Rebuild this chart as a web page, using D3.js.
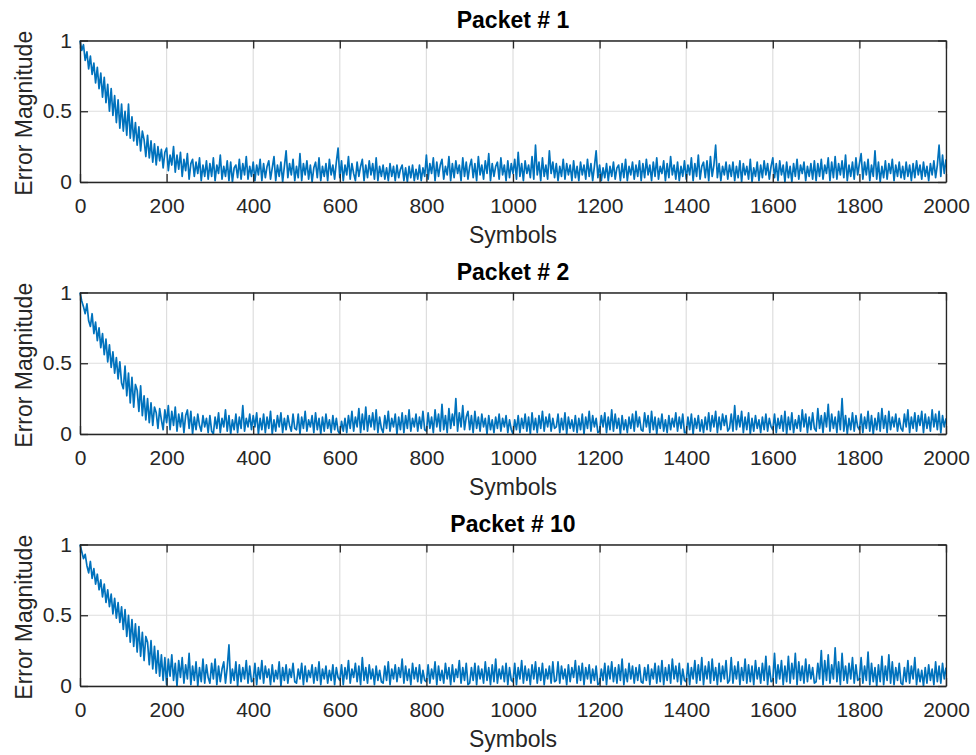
<!DOCTYPE html>
<html><head><meta charset="utf-8">
<script src="https://cdn.jsdelivr.net/npm/d3@7"></script>
<style>body{margin:0;background:#fff}svg{display:block}text{font-family:"Liberation Sans",Arial,sans-serif}</style>
</head><body><svg id="c" width="976" height="755"></svg>
<script>
const titles = ["Packet # 1","Packet # 2","Packet # 10"];
const xTicks = [0,200,400,600,800,1000,1200,1400,1600,1800,2000];
const yTicks = [0,0.5,1];
const xLabel = "Symbols";
const yLabel = "Error Magnitude";
const symbolStep = 4;
const packet1 = [
1.00,0.93,0.97,0.86,0.92,0.80,0.89,0.76,0.84,0.70,0.81,0.66,0.77,0.60,0.74,0.56,0.69,0.50,0.66,0.47,0.61,0.42,0.58,0.38,0.55,
0.36,0.50,0.33,0.55,0.31,0.46,0.29,0.42,0.26,0.39,0.22,0.36,0.30,0.18,0.33,0.17,0.29,0.14,0.27,0.12,0.25,0.15,0.23,0.10,0.21,
0.24,0.08,0.19,0.12,0.25,0.07,0.19,0.09,0.21,0.04,0.16,0.08,0.20,0.02,0.13,0.16,0.04,0.14,0.06,0.17,0.01,0.12,0.04,0.15,0.02,
0.13,0.04,0.17,0.01,0.12,0.06,0.19,0.02,0.11,0.04,0.15,0.01,0.14,0.00,0.10,0.12,0.03,0.16,0.02,0.13,0.05,0.18,0.02,0.11,0.04,
0.14,0.01,0.12,0.05,0.16,0.01,0.13,0.03,0.11,0.15,0.02,0.10,0.18,0.01,0.12,0.04,0.14,0.00,0.11,0.22,0.03,0.13,0.05,0.16,0.01,
0.11,0.03,0.20,0.01,0.13,0.05,0.15,0.02,0.12,0.00,0.10,0.14,0.03,0.17,0.01,0.11,0.04,0.13,0.01,0.16,0.05,0.12,0.02,0.14,0.24,
0.03,0.15,0.01,0.12,0.05,0.18,0.02,0.13,0.06,0.01,0.14,0.04,0.11,0.16,0.01,0.12,0.03,0.15,0.05,0.13,0.02,0.17,0.01,0.11,0.04,
0.12,0.02,0.10,0.01,0.13,0.04,0.11,0.01,0.12,0.03,0.09,0.12,0.01,0.10,0.00,0.11,0.03,0.12,0.01,0.09,0.02,0.12,0.01,0.10,0.04,
0.19,0.02,0.13,0.06,0.17,0.01,0.14,0.04,0.12,0.16,0.02,0.11,0.05,0.18,0.01,0.13,0.03,0.15,0.06,0.12,0.01,0.17,0.04,0.14,0.02,
0.11,0.16,0.03,0.13,0.01,0.18,0.05,0.12,0.02,0.15,0.06,0.20,0.01,0.13,0.04,0.11,0.14,0.02,0.17,0.05,0.12,0.01,0.15,0.03,0.13,
0.06,0.16,0.02,0.21,0.04,0.13,0.01,0.15,0.06,0.12,0.03,0.18,0.02,0.26,0.05,0.14,0.01,0.17,0.04,0.12,0.02,0.22,0.06,0.14,0.03,
0.13,0.01,0.11,0.04,0.16,0.02,0.13,0.05,0.12,0.01,0.15,0.03,0.11,0.01,0.14,0.05,0.12,0.02,0.16,0.04,0.13,0.01,0.11,0.22,0.03,
0.12,0.01,0.10,0.03,0.13,0.01,0.11,0.04,0.14,0.02,0.10,0.12,0.01,0.13,0.03,0.16,0.01,0.11,0.05,0.14,0.02,0.12,0.04,0.15,0.01,
0.13,0.03,0.16,0.05,0.12,0.01,0.14,0.04,0.17,0.02,0.11,0.06,0.15,0.01,0.13,0.03,0.18,0.05,0.12,0.02,0.14,0.01,0.11,0.04,0.15,
0.02,0.12,0.05,0.17,0.01,0.13,0.04,0.19,0.02,0.11,0.14,0.03,0.15,0.01,0.18,0.04,0.12,0.26,0.03,0.13,0.01,0.11,0.05,0.14,0.02,
0.12,0.04,0.14,0.01,0.11,0.03,0.15,0.00,0.13,0.05,0.11,0.02,0.16,0.00,0.10,0.04,0.14,0.01,0.12,0.03,0.15,0.05,0.13,0.02,0.11,
0.17,0.03,0.13,0.01,0.15,0.05,0.12,0.00,0.14,0.03,0.11,0.00,0.13,0.04,0.16,0.02,0.12,0.06,0.14,0.01,0.11,0.04,0.13,0.02,0.15,
0.01,0.13,0.04,0.16,0.02,0.12,0.06,0.17,0.01,0.14,0.03,0.18,0.02,0.13,0.05,0.15,0.03,0.19,0.01,0.12,0.04,0.14,0.02,0.17,0.05,
0.13,0.20,0.02,0.14,0.05,0.16,0.01,0.12,0.04,0.22,0.02,0.14,0.00,0.11,0.03,0.15,0.02,0.13,0.06,0.16,0.01,0.12,0.04,0.14,0.03,
0.11,0.02,0.14,0.04,0.12,0.01,0.13,0.03,0.15,0.05,0.12,0.02,0.14,0.04,0.11,0.01,0.13,0.05,0.15,0.03,0.12,0.26,0.04,0.19,0.06,
0.16];
const packet2 = [
1.00,0.94,0.90,0.85,0.92,0.80,0.76,0.85,0.71,0.79,0.66,0.75,0.61,0.71,0.56,0.67,0.51,0.63,0.47,0.58,0.43,0.54,0.39,0.51,0.36,
0.32,0.48,0.27,0.43,0.22,0.40,0.19,0.35,0.31,0.16,0.34,0.13,0.27,0.10,0.25,0.08,0.22,0.06,0.19,0.15,0.04,0.18,0.10,0.03,0.17,
0.08,0.20,0.03,0.16,0.06,0.19,0.02,0.14,0.05,0.15,0.01,0.13,0.17,0.04,0.16,0.00,0.12,0.03,0.14,0.06,0.02,0.13,0.05,0.11,0.01,
0.13,0.02,0.00,0.12,0.04,0.15,0.01,0.11,0.05,0.17,0.02,0.13,0.00,0.10,0.03,0.14,0.01,0.12,0.04,0.20,0.02,0.11,0.05,0.14,0.03,
0.13,0.05,0.15,0.00,0.11,0.03,0.14,0.01,0.12,0.04,0.16,0.00,0.10,0.02,0.13,0.05,0.15,0.01,0.11,0.03,0.13,0.06,0.02,0.14,0.04,
0.03,0.14,0.00,0.12,0.04,0.16,0.02,0.10,0.05,0.13,0.01,0.15,0.03,0.11,0.00,0.12,0.02,0.14,0.04,0.10,0.01,0.13,0.03,0.11,0.02,
0.00,0.09,0.02,0.11,0.01,0.13,0.04,0.16,0.02,0.12,0.05,0.18,0.01,0.14,0.03,0.19,0.02,0.13,0.05,0.15,0.03,0.17,0.01,0.12,0.04,
0.01,0.13,0.04,0.16,0.02,0.11,0.05,0.14,0.00,0.12,0.03,0.15,0.01,0.13,0.04,0.17,0.02,0.11,0.05,0.14,0.02,0.12,0.04,0.16,0.03,
0.02,0.15,0.04,0.12,0.01,0.17,0.05,0.14,0.02,0.21,0.03,0.13,0.01,0.18,0.04,0.14,0.06,0.25,0.02,0.15,0.05,0.20,0.03,0.12,0.16,
0.03,0.13,0.01,0.16,0.04,0.12,0.02,0.14,0.05,0.11,0.00,0.13,0.03,0.10,0.01,0.12,0.04,0.14,0.02,0.11,0.05,0.13,0.01,0.10,0.03,
0.00,0.10,0.03,0.13,0.01,0.11,0.04,0.14,0.02,0.12,0.00,0.15,0.03,0.11,0.01,0.13,0.04,0.16,0.02,0.12,0.05,0.14,0.02,0.11,0.04,
0.05,0.14,0.01,0.11,0.03,0.15,0.00,0.12,0.04,0.10,0.02,0.13,0.01,0.11,0.03,0.14,0.00,0.12,0.04,0.16,0.02,0.13,0.05,0.11,0.01,
0.02,0.13,0.05,0.15,0.01,0.12,0.03,0.17,0.02,0.14,0.04,0.11,0.00,0.13,0.03,0.10,0.01,0.12,0.04,0.14,0.02,0.16,0.05,0.12,0.03,
0.02,0.15,0.05,0.13,0.01,0.16,0.03,0.12,0.00,0.11,0.04,0.14,0.02,0.10,0.01,0.13,0.03,0.11,0.05,0.15,0.02,0.12,0.04,0.14,0.01,
0.01,0.12,0.03,0.14,0.00,0.11,0.04,0.13,0.02,0.10,0.01,0.12,0.03,0.15,0.02,0.13,0.05,0.16,0.01,0.12,0.03,0.14,0.06,0.13,0.02,
0.04,0.14,0.02,0.20,0.03,0.13,0.05,0.16,0.01,0.12,0.03,0.15,0.00,0.11,0.02,0.13,0.04,0.10,0.01,0.12,0.03,0.14,0.02,0.11,0.05,
0.03,0.14,0.01,0.11,0.04,0.13,0.02,0.16,0.00,0.12,0.03,0.15,0.01,0.10,0.04,0.13,0.02,0.17,0.05,0.14,0.01,0.12,0.03,0.15,0.04,
0.02,0.18,0.04,0.13,0.01,0.15,0.05,0.21,0.02,0.14,0.04,0.12,0.01,0.16,0.03,0.25,0.02,0.13,0.00,0.11,0.03,0.15,0.02,0.13,0.05,
0.03,0.14,0.01,0.12,0.04,0.16,0.02,0.13,0.00,0.11,0.03,0.15,0.02,0.18,0.04,0.13,0.01,0.16,0.03,0.12,0.05,0.14,0.02,0.11,0.04,
0.02,0.14,0.05,0.17,0.01,0.12,0.04,0.15,0.02,0.13,0.06,0.16,0.01,0.14,0.04,0.12,0.02,0.17,0.05,0.14,0.03,0.16,0.01,0.13,0.05,
0.11];
const packet10 = [
1.00,0.95,0.90,0.93,0.85,0.80,0.88,0.76,0.83,0.72,0.79,0.68,0.75,0.63,0.72,0.59,0.68,0.56,0.65,0.51,0.62,0.48,0.59,0.45,0.56,
0.40,0.54,0.35,0.50,0.31,0.47,0.28,0.44,0.24,0.42,0.21,0.38,0.18,0.35,0.31,0.15,0.32,0.12,0.28,0.09,0.25,0.07,0.22,0.04,0.20,
0.01,0.19,0.07,0.22,0.04,0.16,0.00,0.18,0.06,0.20,0.02,0.15,0.05,0.23,0.01,0.14,0.04,0.17,0.00,0.13,0.03,0.19,0.02,0.15,0.06,
0.02,0.16,0.05,0.19,0.01,0.14,0.03,0.12,0.17,0.02,0.13,0.29,0.02,0.12,0.04,0.17,0.00,0.15,0.03,0.13,0.05,0.18,0.02,0.14,0.03,
0.04,0.16,0.01,0.13,0.05,0.18,0.02,0.14,0.06,0.12,0.01,0.15,0.03,0.11,0.05,0.17,0.00,0.13,0.04,0.15,0.02,0.12,0.06,0.16,0.03,
0.02,0.12,0.05,0.16,0.01,0.14,0.03,0.11,0.06,0.15,0.02,0.13,0.04,0.17,0.01,0.12,0.05,0.14,0.02,0.11,0.04,0.15,0.01,0.13,0.06,
0.04,0.15,0.01,0.13,0.05,0.18,0.02,0.12,0.06,0.16,0.03,0.14,0.01,0.20,0.04,0.13,0.02,0.15,0.05,0.12,0.01,0.14,0.04,0.11,0.03,
0.02,0.14,0.04,0.17,0.01,0.12,0.05,0.15,0.03,0.13,0.06,0.19,0.02,0.14,0.04,0.12,0.01,0.16,0.05,0.13,0.03,0.15,0.02,0.11,0.04,
0.03,0.15,0.02,0.12,0.05,0.17,0.01,0.14,0.04,0.11,0.02,0.16,0.05,0.13,0.01,0.15,0.03,0.12,0.06,0.18,0.02,0.13,0.04,0.16,0.01,
0.02,0.13,0.04,0.16,0.01,0.14,0.05,0.12,0.02,0.17,0.04,0.13,0.01,0.15,0.03,0.19,0.02,0.12,0.05,0.14,0.03,0.16,0.01,0.13,0.04,
0.03,0.16,0.01,0.13,0.05,0.18,0.02,0.14,0.04,0.12,0.01,0.15,0.05,0.17,0.02,0.13,0.04,0.16,0.01,0.12,0.05,0.14,0.02,0.17,0.03,
0.04,0.17,0.02,0.14,0.05,0.12,0.01,0.15,0.03,0.13,0.06,0.18,0.02,0.14,0.04,0.16,0.01,0.13,0.05,0.15,0.02,0.12,0.04,0.14,0.01,
0.02,0.12,0.04,0.16,0.01,0.14,0.05,0.17,0.03,0.13,0.02,0.15,0.04,0.19,0.01,0.12,0.03,0.16,0.05,0.14,0.02,0.13,0.04,0.15,0.03,
0.02,0.13,0.04,0.15,0.01,0.12,0.05,0.16,0.02,0.14,0.03,0.18,0.01,0.13,0.04,0.15,0.02,0.19,0.05,0.14,0.03,0.16,0.01,0.12,0.04,
0.03,0.16,0.01,0.13,0.05,0.18,0.02,0.15,0.04,0.20,0.01,0.14,0.05,0.17,0.02,0.19,0.04,0.13,0.01,0.16,0.03,0.14,0.05,0.18,0.02,
0.04,0.20,0.02,0.14,0.05,0.17,0.01,0.13,0.04,0.19,0.02,0.15,0.03,0.14,0.01,0.18,0.05,0.13,0.02,0.16,0.04,0.21,0.01,0.14,0.03,
0.04,0.23,0.02,0.15,0.05,0.18,0.01,0.14,0.03,0.21,0.02,0.16,0.05,0.23,0.01,0.17,0.04,0.14,0.02,0.19,0.03,0.15,0.05,0.13,0.02,
0.03,0.16,0.05,0.25,0.01,0.18,0.04,0.22,0.02,0.15,0.05,0.27,0.03,0.17,0.01,0.23,0.04,0.14,0.02,0.16,0.05,0.20,0.02,0.15,0.04,
0.05,0.20,0.02,0.14,0.04,0.24,0.01,0.16,0.03,0.13,0.00,0.15,0.03,0.21,0.01,0.14,0.04,0.22,0.02,0.17,0.01,0.13,0.04,0.16,0.02,
0.01,0.13,0.03,0.18,0.02,0.14,0.05,0.20,0.01,0.12,0.03,0.11,0.00,0.13,0.02,0.15,0.04,0.12,0.01,0.17,0.03,0.14,0.02,0.16,0.05,
0.13];
const series = [packet1, packet2, packet10];

const svg = d3.select("#c");
const left = 80, right = 946, plotH = 141.5;
const tops = [40.5, 292.5, 544.5];
const axisCol = "#262626", gridCol = "#dedede", lineCol = "#0072BD";
const font = "'Liberation Sans', Arial, sans-serif";
const x = d3.scaleLinear().domain([0, 2000]).range([left, right]);

series.forEach((vals, k) => {
  const top = tops[k], bot = top + plotH;
  const y = d3.scaleLinear().domain([0, 1]).range([bot, top]);
  const g = svg.append("g");
  g.append("g").selectAll("line").data(xTicks).join("line")
    .attr("x1", d => x(d)).attr("x2", d => x(d)).attr("y1", top).attr("y2", bot)
    .attr("stroke", gridCol).attr("stroke-width", 1.2);
  g.append("g").selectAll("line").data(yTicks).join("line")
    .attr("x1", left).attr("x2", right).attr("y1", d => y(d)).attr("y2", d => y(d))
    .attr("stroke", gridCol).attr("stroke-width", 1.2);
  const line = d3.line().x((d, i) => x(i * symbolStep)).y(d => y(d));
  g.append("path").datum(vals).attr("d", line).attr("fill", "none")
    .attr("stroke", lineCol).attr("stroke-width", 1.7).attr("stroke-linejoin", "round");
  const fmt = d => String(d);
  const xb = g.append("g").attr("transform", `translate(0,${bot})`)
    .call(d3.axisBottom(x).tickValues(xTicks).tickFormat(fmt).tickSizeInner(-8).tickSizeOuter(0).tickPadding(16));
  const xt = g.append("g").attr("transform", `translate(0,${top})`)
    .call(d3.axisTop(x).tickValues(xTicks).tickFormat("").tickSizeInner(-8).tickSizeOuter(0));
  const yl = g.append("g").attr("transform", `translate(${left},0)`)
    .call(d3.axisLeft(y).tickValues(yTicks).tickFormat(fmt).tickSizeInner(-8).tickSizeOuter(0).tickPadding(8));
  const yr = g.append("g").attr("transform", `translate(${right},0)`)
    .call(d3.axisRight(y).tickValues(yTicks).tickFormat("").tickSizeInner(-8).tickSizeOuter(0));
  [xb, xt, yl, yr].forEach(a => {
    a.selectAll("path").attr("stroke", axisCol).attr("stroke-width", 1.3);
    a.selectAll("line").attr("stroke", axisCol).attr("stroke-width", 1.3);
    a.selectAll("text").attr("fill", axisCol).attr("font-size", 21).attr("font-family", font);
  });
  g.append("text").attr("x", (left + right) / 2).attr("y", top - 12.5)
    .attr("text-anchor", "middle").attr("font-weight", "bold").attr("font-size", 23)
    .attr("fill", "#000").attr("font-family", font).text(titles[k]);
  g.append("text").attr("x", (left + right) / 2).attr("y", bot + 61)
    .attr("text-anchor", "middle").attr("font-size", 23).attr("fill", axisCol)
    .attr("font-family", font).text(xLabel);
  g.append("text").attr("transform", `translate(32,${(top + bot) / 2 + 2}) rotate(-90)`)
    .attr("text-anchor", "middle").attr("font-size", 23).attr("fill", axisCol)
    .attr("font-family", font).text(yLabel);
});
</script></body></html>
